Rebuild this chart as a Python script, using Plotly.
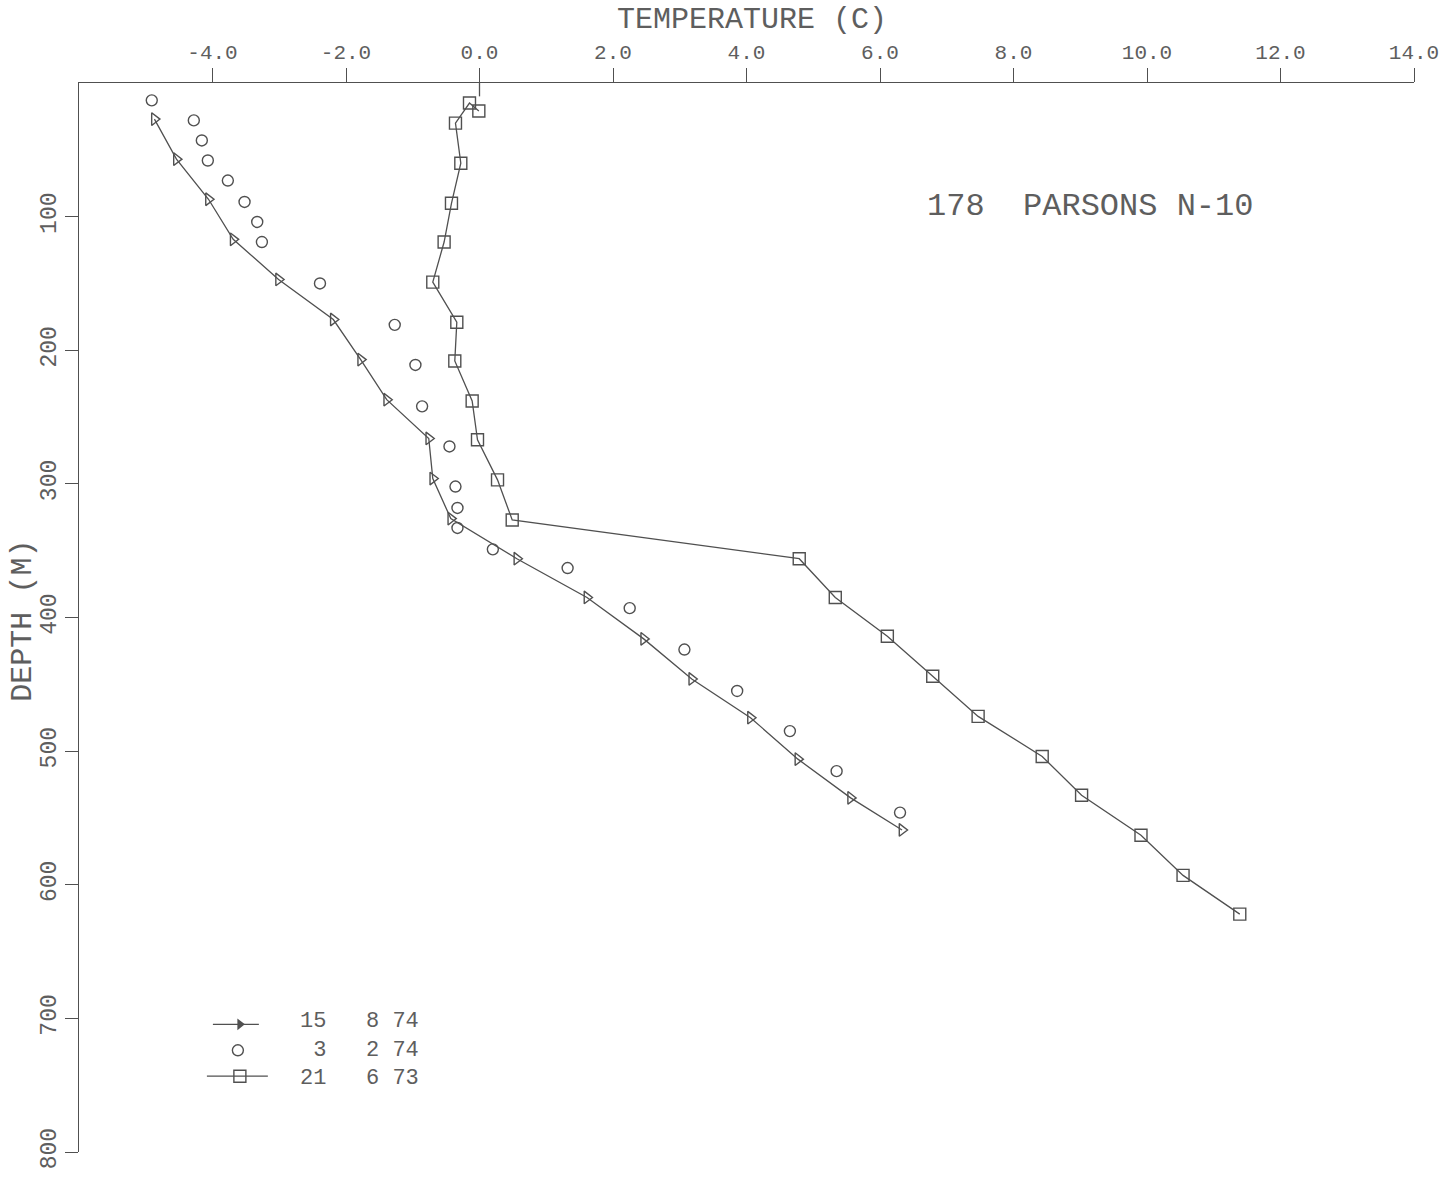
import plotly.graph_objects as go

# ---- data ----
temp_150874 = [-4.87, -4.54, -4.06, -3.69, -3.01, -2.19, -1.78, -1.39, -0.76, -0.70,
               -0.43, 0.56, 1.61, 2.46, 3.18, 4.06, 4.77, 5.56, 6.33]
depth_150874 = [27, 57, 87, 117, 147, 177, 207, 237, 266, 296,
                326, 356, 385, 416, 446, 475, 506, 535, 559]

temp_030274 = [-4.91, -4.28, -4.16, -4.07, -3.77, -3.52, -3.33, -3.26, -2.39, -1.27,
               -0.96, -0.86, -0.45, -0.36, -0.33, -0.33, 0.20, 1.32, 2.25, 3.07,
               3.86, 4.65, 5.35, 6.30]
depth_030274 = [13, 28, 43, 58, 73, 89, 104, 119, 150, 181,
                211, 242, 272, 302, 318, 333, 349, 363, 393, 424,
                455, 485, 515, 546]

temp_210673 = [-0.01, -0.15, -0.36, -0.28, -0.42, -0.53, -0.70, -0.34, -0.37, -0.11,
               -0.03, 0.27, 0.49, 4.79, 5.33, 6.11, 6.79, 7.47, 8.43, 9.02,
               9.91, 10.54, 11.39]
depth_210673 = [21, 15, 30, 60, 90, 119, 149, 179, 208, 238,
                267, 297, 327, 356, 385, 414, 444, 474, 504, 533,
                563, 593, 622]

x_ticks = [-4, -2, 0, 2, 4, 6, 8, 10, 12, 14]
x_tick_labels = ["-4.0", "-2.0", "0.0", "2.0", "4.0", "6.0", "8.0", "10.0", "12.0", "14.0"]
y_ticks = [100, 200, 300, 400, 500, 600, 700, 800]
y_tick_labels = ["100", "200", "300", "400", "500", "600", "700", "800"]

legend_labels = ["15\u00a0\u00a0\u00a08\u00a074",
                 "\u00a03\u00a0\u00a0\u00a02\u00a074",
                 "21\u00a0\u00a0\u00a06\u00a073"]

INK = "#505050"
TXT = "#5e5e5e"
FONT = "Liberation Mono"

W, H = 1451, 1181
L, R, T, B = 79, 36, 83, 26
PH = H - T - B  # plot height in px

fig = go.Figure()

fig.add_trace(go.Scatter(
    x=temp_150874, y=depth_150874, mode="lines+markers",
    line=dict(color=INK, width=1.3),
    marker=dict(symbol="triangle-right-open", size=11, color=INK, line=dict(width=1.4, color=INK)),
    showlegend=False))
fig.add_trace(go.Scatter(
    x=temp_030274, y=depth_030274, mode="markers",
    marker=dict(symbol="circle-open", size=11, color=INK, line=dict(width=1.4, color=INK)),
    showlegend=False))
fig.add_trace(go.Scatter(
    x=temp_210673, y=depth_210673, mode="lines+markers",
    line=dict(color=INK, width=1.3),
    marker=dict(symbol="square-open", size=12, color=INK, line=dict(width=1.4, color=INK)),
    showlegend=False))

# ---- hand-made legend on an overlay axis measured in page pixels ----
row_y = [1027, 1053, 1079]
sym_x = 240
fig.add_trace(go.Scatter(x=[213, 259], y=[row_y[0]] * 2, mode="lines", xaxis="x2", yaxis="y2",
                         line=dict(color=INK, width=1.3), showlegend=False, hoverinfo="skip"))
fig.add_trace(go.Scatter(x=[sym_x], y=[row_y[0]], mode="markers", xaxis="x2", yaxis="y2",
                         marker=dict(symbol="triangle-right", size=10, color=INK),
                         showlegend=False, hoverinfo="skip"))
fig.add_trace(go.Scatter(x=[sym_x - 2], y=[row_y[1]], mode="markers", xaxis="x2", yaxis="y2",
                         marker=dict(symbol="circle-open", size=11, color=INK, line=dict(width=1.4, color=INK)),
                         showlegend=False, hoverinfo="skip"))
fig.add_trace(go.Scatter(x=[207, 268], y=[row_y[2]] * 2, mode="lines", xaxis="x2", yaxis="y2",
                         line=dict(color=INK, width=1.3), showlegend=False, hoverinfo="skip"))
fig.add_trace(go.Scatter(x=[sym_x], y=[row_y[2]], mode="markers", xaxis="x2", yaxis="y2",
                         marker=dict(symbol="square-open", size=12, color=INK, line=dict(width=1.4, color=INK)),
                         showlegend=False, hoverinfo="skip"))

annotations = []
annotations.append(dict(x=298, y=row_y[1], xref="x2", yref="y2", text="<br>".join(legend_labels),
                        showarrow=False, xanchor="left", yanchor="middle", align="left",
                        font=dict(family=FONT, size=22, color=TXT)))

annotations.append(dict(x=0.504, y=(H - B - 39) / PH, xref="paper", yref="paper", text="TEMPERATURE (C)",
                        showarrow=False, xanchor="center", yanchor="bottom",
                        font=dict(family=FONT, size=30, color=TXT)))
annotations.append(dict(x=-0.042, y=0.497, xref="paper", yref="paper", text="DEPTH (M)",
                        showarrow=False, xanchor="center", yanchor="middle", textangle=-90,
                        font=dict(family=FONT, size=30, color=TXT)))
annotations.append(dict(x=1091, y=207, xref="x2", yref="y2", text="178\u00a0\u00a0PARSONS N-10",
                        showarrow=False, xanchor="center", yanchor="middle",
                        font=dict(family=FONT, size=32, color=TXT)))

fig.update_layout(
    width=W, height=H,
    margin=dict(l=L, r=R, t=T, b=B),
    paper_bgcolor="white", plot_bgcolor="white",
    showlegend=False,
    annotations=annotations,
    xaxis=dict(side="top", range=[-6, 14], tickvals=x_ticks, ticktext=x_tick_labels,
               showgrid=False, zeroline=False, showline=True, linecolor=INK, linewidth=1.3,
               ticks="outside", ticklen=14, tickwidth=1.3, tickcolor=INK,
               tickfont=dict(family=FONT, size=21, color=TXT)),
    yaxis=dict(range=[800, 0], tickvals=y_ticks, ticktext=y_tick_labels,
               showgrid=False, zeroline=False, showline=True, linecolor=INK, linewidth=1.3,
               ticks="outside", ticklen=13, tickwidth=1.3, tickcolor=INK, tickangle=-90,
               tickfont=dict(family=FONT, size=23, color=TXT)),
    xaxis2=dict(overlaying="x", range=[L, W - R], visible=False, fixedrange=True),
    yaxis2=dict(overlaying="y", range=[H - B, T], visible=False, fixedrange=True),
    shapes=[dict(type="line", xref="x", yref="y", x0=0, x1=0, y0=0, y1=10,
                 line=dict(color=INK, width=1.3))],
)

fig.write_html("out.html")
